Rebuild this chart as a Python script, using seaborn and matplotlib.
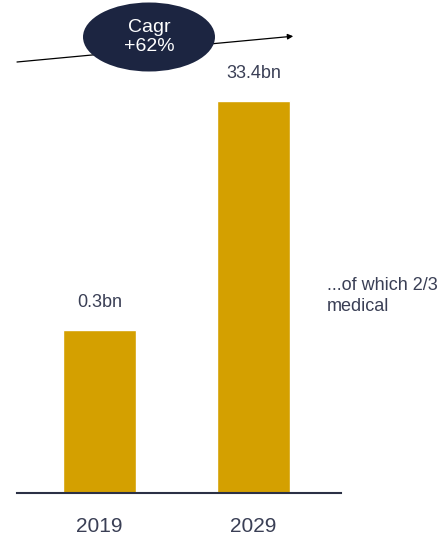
import numpy as np
import pandas as pd
import matplotlib
matplotlib.use('Agg')
import matplotlib.pyplot as plt
from matplotlib.patches import Ellipse
import seaborn as sns

sns.set_style('white')
plt.rcParams['font.family'] = ['Liberation Sans', 'DejaVu Sans']

# data (bar heights are drawn, not to scale with the labels)
years = ['2019', '2029']
bar_heights = [13.9, 33.4]
value_labels = ['0.3bn', '33.4bn']
cagr_text = 'Cagr\n+62%'
note_text = '...of which 2/3\nmedical'

df = pd.DataFrame({'Year': years, 'Height': bar_heights})

bar_color = '#D4A000'
navy = '#1C2541'
text_color = '#3A3F55'

fig = plt.figure(figsize = (4.42, 5.42), dpi = 100)
ax = fig.add_axes([17 / 442, 49 / 542, 324 / 442, 392 / 542])

sns.barplot(data = df, x = 'Year', y = 'Height', color = bar_color,
            width = 0.474, saturation = 1, ax = ax)

ax.set_xlim(-0.536, 1.568)
ax.set_ylim(0, 33.4)
for s in ['top', 'right', 'left']:
    ax.spines[s].set_visible(False)
ax.spines['bottom'].set_color('#2B3045')
ax.spines['bottom'].set_linewidth(1.5)
ax.spines['bottom'].set_zorder(5)
ax.set_yticks([])
ax.set_xlabel('')
ax.set_ylabel('')
ax.tick_params(axis = 'x', length = 0, pad = 17, labelsize = 15, labelcolor = text_color)

for i, (h, lab) in enumerate(zip(bar_heights, value_labels)):
    ax.annotate(lab, (i, h), xytext = (0, 20), textcoords = 'offset points',
                ha = 'center', va = 'center', fontsize = 13, color = text_color,
                annotation_clip = False)

# growth arrow and cagr bubble in figure pixels
fig.add_artist(plt.Line2D([17 / 442, 290 / 442], [1 - 62 / 542, 1 - 36.5 / 542],
                          color = 'black', linewidth = 0.9, transform = fig.transFigure))
fig.add_artist(matplotlib.patches.FancyArrowPatch((285 / 442, 1 - 36.9 / 542), (296 / 442, 1 - 36 / 542),
                                                  transform = fig.transFigure, arrowstyle = '-|>',
                                                  mutation_scale = 8, color = 'black', linewidth = 0.9))
fig.add_artist(Ellipse((149 / 442, 1 - 37 / 542), 132 / 442, 69 / 542,
                       transform = fig.transFigure, facecolor = navy, edgecolor = 'none', zorder = 3))
fig.text(149 / 442, 1 - 37 / 542, cagr_text, ha = 'center', va = 'center',
         color = 'white', fontsize = 14, linespacing = 1.1, zorder = 4)

fig.text(327 / 442, 1 - 296 / 542, note_text, ha = 'left', va = 'center',
         color = text_color, fontsize = 13, linespacing = 1.25)

fig.savefig('out.png', dpi = 100)
